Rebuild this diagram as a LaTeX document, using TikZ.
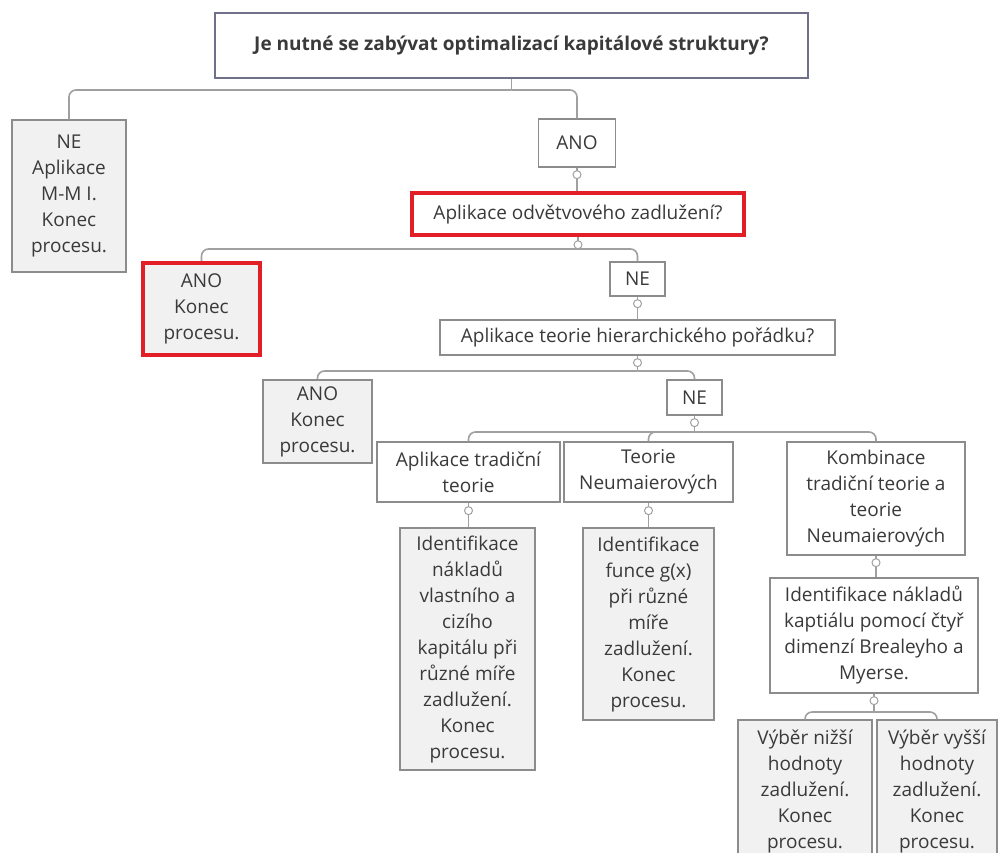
\documentclass[tikz,border=0pt]{standalone}
\usepackage{fontspec}
\setmainfont{Open Sans}
\usetikzlibrary{calc}
\definecolor{txt}{HTML}{3A3A3A}
\definecolor{bd}{HTML}{8C8C8C}
\definecolor{ln}{HTML}{A0A0A0}
\definecolor{leafc}{HTML}{F1F1F1}
\definecolor{redb}{HTML}{E21F26}
\definecolor{topbd}{HTML}{70708A}
\begin{document}
\begin{tikzpicture}[x=1pt,y=-1pt,
  box/.style={draw=bd, line width=1.3pt, fill=white, text=txt, align=center, inner sep=0pt,
    font=\fontsize{19}{26}\selectfont},
  leaf/.style={box, fill=leafc},
  redbox/.style={draw=redb, line width=3.5pt},
  conn/.style={draw=ln, line width=1.6pt, rounded corners=7pt},
  dot/.style={circle, draw=ln, fill=white, line width=1pt, minimum size=8pt, inner sep=0pt}]
\clip (0,0) rectangle (1000,852);
\useasboundingbox (0,0) rectangle (1000,852);
\fill[white] (0,0) rectangle (1000,852);

% nodes
\node[box, draw=topbd, minimum width=593pt, minimum height=65pt, font=\fontsize{19}{24}\selectfont\bfseries] (top) at (511.5,45.5) {Je nutné se zabývat optimalizací kapitálové struktury?};
\node[leaf, minimum width=114pt, minimum height=152pt] (ne1) at (69,196) {NE\\Aplikace\\M-M I.\\Konec\\procesu.};
\node[box, minimum width=77pt, minimum height=48pt] (ano1) at (577,143) {ANO};
\node[box, redbox, minimum width=332pt, minimum height=42pt] (q2) at (578,214) {Aplikace odvětvového zadlužení?};
\node[leaf, redbox, minimum width=117pt, minimum height=92pt] (ano2) at (201.5,309) {ANO\\Konec\\procesu.};
\node[box, minimum width=55pt, minimum height=34pt] (ne2) at (637.5,279) {NE};
\node[box, minimum width=395pt, minimum height=35pt] (q3) at (637.5,337.5) {Aplikace teorie hierarchického pořádku?};
\node[leaf, minimum width=109pt, minimum height=83pt] (ano3) at (317.5,421.5) {ANO\\Konec\\procesu.};
\node[box, minimum width=55pt, minimum height=35pt] (ne3) at (694.5,397.5) {NE};
\node[box, minimum width=183pt, minimum height=60pt] (c1) at (468.5,472) {Aplikace tradiční\\teorie};
\node[box, minimum width=169pt, minimum height=60pt] (c2) at (648.5,472) {Teorie\\Neumaierových};
\node[box, minimum width=178pt, minimum height=113pt] (c3) at (876,498.5) {Kombinace\\tradiční teorie a\\teorie\\Neumaierových};
\node[leaf, minimum width=135pt, minimum height=242pt] (l1) at (467.5,649) {Identifikace\\nákladů\\vlastního a\\cizího\\kapitálu při\\různé míře\\zadlužení.\\Konec\\procesu.};
\node[leaf, minimum width=131pt, minimum height=192pt] (l2) at (648.5,624) {Identifikace\\funce g(x)\\při různé\\míře\\zadlužení.\\Konec\\procesu.};
\node[box, minimum width=208pt, minimum height=115pt] (m3) at (874,635.5) {Identifikace nákladů\\kaptiálu pomocí čtyř\\dimenzí Brealeyho a\\Myerse.};
\node[leaf, minimum width=134pt, minimum height=142pt] (v1) at (805,791) {Výběr nižší\\hodnoty\\zadlužení.\\Konec\\procesu.};
\node[leaf, minimum width=120pt, minimum height=142pt] (v2) at (937,791) {Výběr vyšší\\hodnoty\\zadlužení.\\Konec\\procesu.};

% bus coordinates
\coordinate (b0) at (top.south |- 0,90);
\coordinate (b2) at (q2.south |- 0,249);
\coordinate (b3) at (q3.south |- 0,371);
\coordinate (b4) at (ne3.south |- 0,432);
\coordinate (b5) at (m3.south |- 0,712);

% connectors
\draw[conn] (top.south) -- (b0);
\draw[conn] (b0) -| (ne1.north);
\draw[conn] (b0) -| (ano1.north);

\draw[conn] (ano1.south) -- (ano1.south |- q2.north);

\draw[conn] (q2.south) -- (b2);
\draw[conn] (b2) -| (ano2.north);
\draw[conn] (b2) -| (ne2.north);

\draw[conn] (ne2.south) -- (q3.north);

\draw[conn] (q3.south) -- (b3);
\draw[conn] (b3) -| (ano3.north);
\draw[conn] (b3) -| (ne3.north);

\draw[conn] (ne3.south) -- (b4);
\draw[conn] (b4) -| (c1.north);
\draw[conn] (b4) -| (c2.north);
\draw[conn] (b4) -| (c3.north);

\draw[conn] (c1.south) -- (c1.south |- l1.north);
\draw[conn] (c2.south) -- (c2.south |- l2.north);
\draw[conn] (c3.south) -- (c3.south |- m3.north);

\draw[conn] (m3.south) -- (b5);
\draw[conn] (b5) -| (v1.north);
\draw[conn] (b5) -| (v2.north);

% redraw red borders on top of connector ends
\node[draw=redb, line width=3.5pt, minimum width=332pt, minimum height=42pt, inner sep=0pt] (q2r) at (q2) {};
\node[draw=redb, line width=3.5pt, minimum width=117pt, minimum height=92pt, inner sep=0pt] (ano2r) at (ano2) {};

% circle markers
\node[dot] (d1) at ($(ano1.south)+(0,7)$) {};
\node[dot] (d2) at ($(q2.south)+(0,8)$) {};
\node[dot] (d3) at ($(ne2.south)+(0,7)$) {};
\node[dot] (d4) at ($(q3.south)+(0,7)$) {};
\node[dot] (d5) at ($(ne3.south)+(0,7)$) {};
\node[dot] (d6) at ($(c1.south)+(0,8)$) {};
\node[dot] (d7) at ($(c2.south)+(0,8)$) {};
\node[dot] (d8) at ($(c3.south)+(0,7)$) {};
\node[dot] (d9) at ($(m3.south)+(0,7)$) {};
\end{tikzpicture}
\end{document}
